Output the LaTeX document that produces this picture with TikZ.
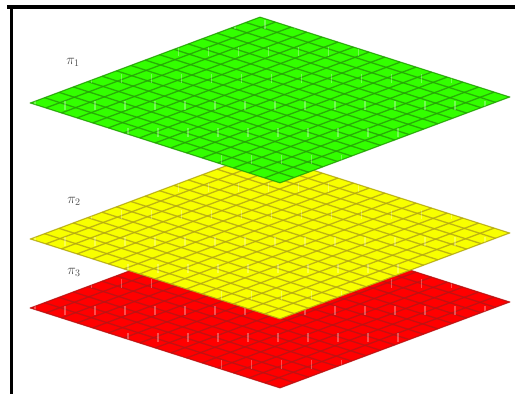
\documentclass[tikz,border=0pt]{standalone}
\definecolor{gfill}{RGB}{51,255,0}
\definecolor{gline}{RGB}{38,160,8}
\definecolor{yfill}{RGB}{248,255,0}
\definecolor{yline}{RGB}{180,168,20}
\definecolor{rfill}{RGB}{255,0,0}
\definecolor{rline}{RGB}{185,20,20}
\newcommand\drawlayer[3]{%
  \begin{scope}[shift={(260,#1)}]
    \fill[#2] (0,0) -- (250,80) -- (20,166) -- (-230,86) -- cycle;
    \begin{scope}
      \clip (0,0) -- (250,80) -- (20,166) -- (-230,86) -- cycle;
      \foreach \i in {0,...,16} {
        \draw[gridln,#3] (\i*15.625,\i*5) -- ++(-230,86);
        \draw[gridln,#3] (-\i*14.375,\i*5.375) -- ++(250,80);
      }
      \foreach \n in {0,...,6} {
        \foreach \m in {0,...,16} {
          \draw[tick] ({-235+\m*30+\n*3.3},{3+\n*27}) -- ++(0,9);
        }
      }
    \end{scope}
    \draw[edgeln,#3] (0,0) -- (250,80) -- (20,166) -- (-230,86) -- cycle;
  \end{scope}}
\tikzset{
  gridln/.style={line width=1.3pt,opacity=0.85},
  edgeln/.style={line width=1pt,opacity=0.6,line join=round},
  tick/.style={white,opacity=0.3,line width=1.5pt},
  lab/.style={font=\fontsize{14}{16}\selectfont,inner sep=0pt,text=black!70}
}
\begin{document}
\begin{tikzpicture}[x=1pt,y=-1pt]
\useasboundingbox (0,0) rectangle (515,394);
\fill[white] (0,0) rectangle (515,394);
\drawlayer{222}{rfill}{rline}
\drawlayer{153}{yfill}{yline}
\drawlayer{17}{gfill}{gline}
\node[lab] (p1) at (73,62) {$\pi_1$};
\node[lab] (p2) at (74,201) {$\pi_2$};
\node[lab] (p3) at (74,272) {$\pi_3$};
\fill[black] (7,5) rectangle (515,8.5);
\fill[black] (10,5) rectangle (13.3,394);
\end{tikzpicture}
\end{document}
